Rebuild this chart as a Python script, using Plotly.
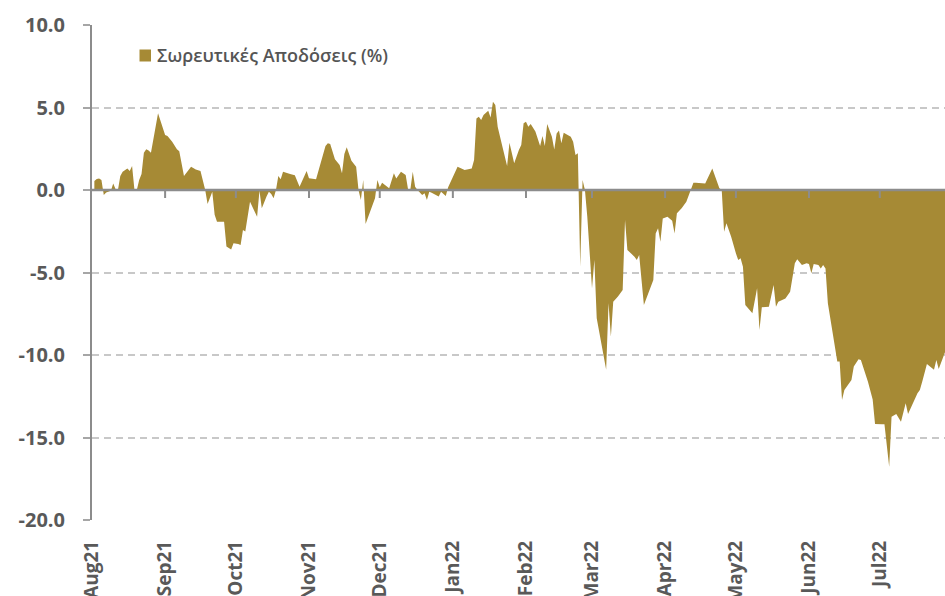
import plotly.graph_objects as go

dates = [
    "2021-08-02", "2021-08-03", "2021-08-04", "2021-08-05", "2021-08-06", "2021-08-07", "2021-08-09",
    "2021-08-10", "2021-08-11", "2021-08-12", "2021-08-13", "2021-08-14", "2021-08-16", "2021-08-17",
    "2021-08-18", "2021-08-19", "2021-08-20", "2021-08-21", "2021-08-22", "2021-08-23", "2021-08-24",
    "2021-08-25", "2021-08-26", "2021-08-29", "2021-09-01", "2021-09-02", "2021-09-04", "2021-09-06",
    "2021-09-07", "2021-09-09", "2021-09-12", "2021-09-14", "2021-09-16", "2021-09-18", "2021-09-19",
    "2021-09-21", "2021-09-22", "2021-09-23", "2021-09-26", "2021-09-27", "2021-09-29", "2021-09-30",
    "2021-10-02", "2021-10-03", "2021-10-04", "2021-10-05", "2021-10-07", "2021-10-10", "2021-10-11",
    "2021-10-12", "2021-10-14", "2021-10-15", "2021-10-16", "2021-10-17", "2021-10-18", "2021-10-19",
    "2021-10-20", "2021-10-21", "2021-10-24", "2021-10-26", "2021-10-28", "2021-10-31", "2021-11-01",
    "2021-11-04", "2021-11-08", "2021-11-09", "2021-11-10", "2021-11-12", "2021-11-14", "2021-11-15",
    "2021-11-16", "2021-11-17", "2021-11-19", "2021-11-21", "2021-11-22", "2021-11-23", "2021-11-24",
    "2021-11-25", "2021-11-29", "2021-11-30", "2021-12-01", "2021-12-02", "2021-12-05", "2021-12-07",
    "2021-12-08", "2021-12-10", "2021-12-12", "2021-12-13", "2021-12-14", "2021-12-15", "2021-12-16",
    "2021-12-17", "2021-12-19", "2021-12-20", "2021-12-21", "2021-12-22", "2021-12-23", "2021-12-26",
    "2021-12-27", "2021-12-28", "2021-12-29", "2021-12-30", "2022-01-03", "2022-01-06", "2022-01-09",
    "2022-01-10", "2022-01-11", "2022-01-12", "2022-01-13", "2022-01-14", "2022-01-16", "2022-01-17",
    "2022-01-18", "2022-01-19", "2022-01-20", "2022-01-22", "2022-01-24", "2022-01-25", "2022-01-27",
    "2022-01-29", "2022-01-30", "2022-01-31", "2022-02-01", "2022-02-02", "2022-02-03", "2022-02-05",
    "2022-02-07", "2022-02-08", "2022-02-09", "2022-02-10", "2022-02-12", "2022-02-13", "2022-02-14",
    "2022-02-15", "2022-02-16", "2022-02-17", "2022-02-20", "2022-02-21", "2022-02-22", "2022-02-23",
    "2022-02-24", "2022-02-25", "2022-02-26", "2022-02-27", "2022-02-28", "2022-03-01", "2022-03-02",
    "2022-03-03", "2022-03-07", "2022-03-08", "2022-03-09", "2022-03-10", "2022-03-12", "2022-03-14",
    "2022-03-15", "2022-03-16", "2022-03-19", "2022-03-20", "2022-03-21", "2022-03-23", "2022-03-27",
    "2022-03-28", "2022-03-29", "2022-03-30", "2022-03-31", "2022-04-02", "2022-04-04", "2022-04-05",
    "2022-04-06", "2022-04-08", "2022-04-10", "2022-04-12", "2022-04-13", "2022-04-14", "2022-04-18",
    "2022-04-21", "2022-04-24", "2022-04-25", "2022-04-26", "2022-04-27", "2022-04-29", "2022-05-01",
    "2022-05-02", "2022-05-03", "2022-05-04", "2022-05-05", "2022-05-08", "2022-05-10", "2022-05-11",
    "2022-05-12", "2022-05-15", "2022-05-17", "2022-05-18", "2022-05-19", "2022-05-22", "2022-05-24",
    "2022-05-25", "2022-05-26", "2022-05-27", "2022-05-28", "2022-05-29", "2022-05-31", "2022-06-01",
    "2022-06-02", "2022-06-03", "2022-06-05", "2022-06-06", "2022-06-07", "2022-06-08", "2022-06-09",
    "2022-06-11", "2022-06-13", "2022-06-14", "2022-06-15", "2022-06-16", "2022-06-19", "2022-06-20",
    "2022-06-22", "2022-06-23", "2022-06-26", "2022-06-28", "2022-06-29", "2022-07-02", "2022-07-03",
    "2022-07-05", "2022-07-06", "2022-07-08", "2022-07-10", "2022-07-12", "2022-07-13", "2022-07-17",
    "2022-07-18", "2022-07-19", "2022-07-21", "2022-07-24", "2022-07-25", "2022-07-26", "2022-07-28",
    "2022-07-29",
]

cumulative_returns = [
    0.55, 0.67, 0.70, 0.60, -0.30, -0.15, -0.05,
    0.40, 0.05, 0.00, 0.85, 1.10, 1.30, 1.15,
    1.45, 0.00, 0.00, 0.60, 0.97, 2.26, 2.47,
    2.40, 2.26, 4.65, 3.33, 3.27, 2.93, 2.47,
    2.35, 0.85, 1.41, 1.25, 1.15, 0.00, -0.85,
    -0.10, -1.50, -1.92, -1.92, -3.43, -3.60, -3.23,
    -3.27, -3.33, -2.42, -2.52, -0.71, -1.62, -0.04,
    -1.11, -0.40, -0.10, -0.24, -0.50, 0.00, 0.85,
    0.65, 1.11, 0.97, 0.90, 0.20, 1.15, 0.71,
    0.65, 2.67, 2.83, 2.79, 1.86, 1.52, 1.01,
    2.18, 2.59, 1.78, 1.41, 0.00, -0.60, 0.60,
    -2.06, -0.50, 0.60, 0.16, 0.44, 0.10, 1.01,
    0.70, 1.11, 0.91, 0.04, 0.04, 1.11, 0.20,
    0.00, -0.30, -0.20, -0.60, -0.10, -0.16, -0.40,
    -0.10, -0.24, -0.36, 0.16, 1.41, 1.21, 1.31,
    1.82, 4.34, 4.44, 4.24, 4.55, 4.81, 4.40,
    5.35, 5.15, 3.84, 2.63, 1.45, 2.87, 1.62,
    2.42, 2.73, 4.04, 4.14, 3.84, 4.00, 3.54,
    2.67, 3.27, 2.67, 4.00, 3.23, 2.46, 3.43,
    3.60, 2.83, 3.47, 3.23, 2.93, 2.12, 2.22,
    -4.65, 0.60, 0.00, -1.62, -3.64, -5.96, -4.24,
    -7.78, -10.90, -6.87, -8.89, -6.77, -6.46, -6.06,
    -1.82, -3.64, -4.04, -4.24, -3.94, -6.97, -5.45,
    -2.63, -2.32, -3.13, -1.72, -1.62, -1.87, -2.63,
    -1.41, -1.11, -0.71, 0.00, 0.44, 0.44, 0.40,
    1.31, 0.10, 0.00, -2.53, -2.02, -2.83, -3.84,
    -4.24, -4.14, -4.65, -6.97, -7.47, -5.96, -8.48,
    -7.11, -7.07, -5.76, -7.07, -6.77, -6.57, -6.16,
    -5.15, -4.44, -4.20, -4.40, -4.55, -4.44, -4.48,
    -5.05, -4.48, -4.55, -4.75, -4.55, -4.75, -6.87,
    -8.69, -10.40, -10.40, -12.73, -12.12, -11.52, -10.70,
    -10.26, -10.30, -11.62, -12.69, -14.18, -14.20, -14.20,
    -16.77, -13.74, -13.58, -14.04, -12.93, -13.58, -12.32,
    -12.12, -11.62, -10.55, -10.90, -10.30, -10.85, -10.06,
    -9.70,
]

month_ticks = [
    "2021-08-01", "2021-09-01", "2021-10-01", "2021-11-01", "2021-12-01", "2022-01-01",
    "2022-02-01", "2022-03-01", "2022-04-01", "2022-05-01", "2022-06-01", "2022-07-01",
]
month_labels = [
    "Aug21", "Sep21", "Oct21", "Nov21", "Dec21", "Jan22",
    "Feb22", "Mar22", "Apr22", "May22", "Jun22", "Jul22",
]
y_ticks = [-20, -15, -10, -5, 0, 5, 10]
y_labels = ["-20.0", "-15.0", "-10.0", "-5.0", "0.0", "5.0", "10.0"]
series_name = "Σωρευτικές Αποδόσεις (%)"

GOLD = "#A68A35"
TEXT = "#595959"
AXIS = "#8c8c8c"
FONT = "Open Sans"

L, T, B = 92, 25, 76
W, H = 945 - 92, 495.0   # plot area in pixels

fig = go.Figure()
fig.add_trace(go.Scatter(
    x=dates, y=cumulative_returns, mode="lines", name=series_name,
    line=dict(width=0, color=GOLD), fill="tozeroy", fillcolor=GOLD,
    showlegend=False, hoverinfo="skip",
))

shapes = []
# zero axis line above the fill
shapes.append(dict(type="line", xref="paper", x0=0, x1=1, yref="y", y0=0, y1=0,
                   line=dict(color=AXIS, width=2.5), layer="above"))
# month tick marks on zero line
for m in month_ticks[1:]:
    shapes.append(dict(type="line", xref="x", x0=m, x1=m, yref="y", ysizemode="pixel",
                       yanchor=0, y0=-1, y1=-8, line=dict(color=AXIS, width=2), layer="above"))

# legend swatch
shapes.append(dict(type="rect", xref="paper", yref="paper",
                   x0=(139.5 - 92) / W, x1=(151 - 92) / W,
                   y0=(520 - 61.5) / H, y1=(520 - 49.5) / H,
                   fillcolor=GOLD, line=dict(width=0), layer="above"))

fig.update_layout(
    width=945, height=596,
    margin=dict(l=L, r=0, t=T, b=B, autoexpand=False),
    paper_bgcolor="white", plot_bgcolor="white",
    font=dict(family=FONT, color=TEXT),
    hovermode=False,
    shapes=shapes,
    annotations=[dict(text=series_name, xref="paper", yref="paper",
                      x=(155 - 92) / W, y=(520 - 55.5) / H, xanchor="left", yanchor="middle",
                      showarrow=False, font=dict(family=FONT, size=18, color="#555555", weight=600))],
    xaxis=dict(
        type="date", range=["2021-08-01", "2022-07-28 16:00"],
        tickmode="array", tickvals=month_ticks, ticktext=month_labels,
        tickangle=-90, tickfont=dict(family=FONT, size=19, color=TEXT, weight="bold"),
        showgrid=False, showline=False, zeroline=False, ticks="",
        ticklabelstandoff=16, automargin=False,
    ),
    yaxis=dict(
        range=[-20, 10], tickmode="array", tickvals=y_ticks, ticktext=y_labels,
        tickfont=dict(family=FONT, size=20, color=TEXT, weight="bold"),
        showgrid=True, gridcolor="#c8c8c8", gridwidth=2, griddash="7px,5px",
        zeroline=False, showline=True, linecolor=AXIS, linewidth=2,
        ticks="outside", ticklen=7, tickwidth=2, tickcolor="#a6a6a6",
        ticklabelstandoff=14, automargin=False,
    ),
)

fig.write_html("out.html", config={"displayModeBar": False},
               post_script="document.body.style.margin='0';")
